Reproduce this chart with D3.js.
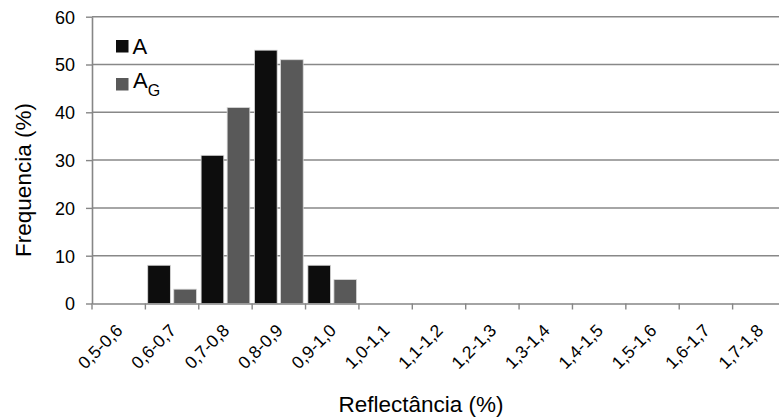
<!DOCTYPE html>
<html><head><meta charset="utf-8">
<script src="https://cdn.jsdelivr.net/npm/d3@7"></script>
<style>body{margin:0;background:#fff}svg{display:block}svg text{font-family:"Liberation Sans",Arial,sans-serif;fill:#000}</style>
</head><body>
<svg id="c" width="779" height="417"></svg>
<script>
const categories = ["0,5-0,6","0,6-0,7","0,7-0,8","0,8-0,9","0,9-1,0","1,0-1,1","1,1-1,2","1,2-1,3","1,3-1,4","1,4-1,5","1,5-1,6","1,6-1,7","1,7-1,8"];
const seriesA  = [0, 8, 31, 53, 8, 0, 0, 0, 0, 0, 0, 0, 0];
const seriesAG = [0, 3, 41, 51, 5, 0, 0, 0, 0, 0, 0, 0, 0];
const yTicks = [0, 10, 20, 30, 40, 50, 60];
const seriesNames = ["A", "AG"];
const colors = ["#0d0d0d", "#595959"];

const svg = d3.select("#c");
const mLeft = 92, mRight = 786, mTop = 16.7, mBottom = 303.5;
const x = d3.scaleBand().domain(categories).range([mLeft, mRight]).paddingInner(0).paddingOuter(0);
const x1 = d3.scaleBand().domain(seriesNames).range([0, x.bandwidth()]).paddingInner(0.13).paddingOuter(0.09);
const y = d3.scaleLinear().domain([0, 60]).range([mBottom, mTop]);

// gridlines
svg.append("g").selectAll("line").data(yTicks.filter(d => d > 0)).join("line")
  .attr("x1", mLeft).attr("x2", mRight).attr("y1", d => y(d)).attr("y2", d => y(d))
  .attr("stroke", "#888888").attr("stroke-width", 1.5);

// bars
const data = [seriesA, seriesAG];
const g = svg.append("g");
categories.forEach((c, i) => {
  seriesNames.forEach((s, j) => {
    const v = data[j][i];
    if (v <= 0) return;
    g.append("rect")
      .attr("x", x(c) + x1(s)).attr("width", x1.bandwidth())
      .attr("y", y(v)).attr("height", y(0) - y(v))
      .attr("fill", colors[j]).attr("stroke", "#d9d9d9").attr("stroke-width", 0.8);
  });
});

// y axis
const yAxis = svg.append("g").attr("transform", `translate(${mLeft},0)`)
  .call(d3.axisLeft(y).tickValues(yTicks).tickSize(6).tickPadding(11).tickSizeOuter(0));
yAxis.attr("font-size", null).attr("font-family", null);
yAxis.select(".domain").attr("stroke", "#868686").attr("stroke-width", 1.6);
yAxis.selectAll(".tick line").attr("stroke", "#868686").attr("stroke-width", 1.4);
yAxis.selectAll(".tick text").style("font-size", "18px").attr("dy", "0.36em");

// x axis
const xAxis = svg.append("g").attr("transform", `translate(0,${mBottom})`)
  .call(d3.axisBottom(x).tickSize(0).tickSizeOuter(0));
xAxis.attr("font-size", null).attr("font-family", null);
xAxis.select(".domain").attr("stroke", "#868686").attr("stroke-width", 1.6);
xAxis.selectAll(".tick text").style("font-size", "17.5px")
  .attr("text-anchor", "end").attr("dy", null).attr("y", 0)
  .attr("transform", "translate(5,28) rotate(-45)");
// boundary ticks
svg.append("g").selectAll("line").data(d3.range(categories.length + 1)).join("line")
  .attr("x1", i => mLeft + i * x.step()).attr("x2", i => mLeft + i * x.step())
  .attr("y1", mBottom).attr("y2", mBottom + 6)
  .attr("stroke", "#868686").attr("stroke-width", 1.4);

// axis titles
svg.append("text").attr("x", 421).attr("y", 411.5).attr("text-anchor", "middle")
  .style("font-size", "22.5px").text("Reflectância (%)");
svg.append("text").attr("transform", "translate(31,180) rotate(-90)").attr("text-anchor", "middle")
  .style("font-size", "22.5px").text("Frequencia (%)");

// legend
const lg = svg.append("g");
lg.append("rect").attr("x", 116).attr("y", 40).attr("width", 12.5).attr("height", 12.5).attr("fill", colors[0]);
lg.append("text").attr("x", 132.5).attr("y", 54).style("font-size", "22px").text("A");
lg.append("rect").attr("x", 116).attr("y", 78).attr("width", 12.5).attr("height", 12.5).attr("fill", colors[1]);
const t2 = lg.append("text").attr("x", 133).attr("y", 87.5).style("font-size", "22px");
t2.append("tspan").text("A");
t2.append("tspan").style("font-size", "16px").attr("dy", 8).text("G");
</script>
</body></html>
